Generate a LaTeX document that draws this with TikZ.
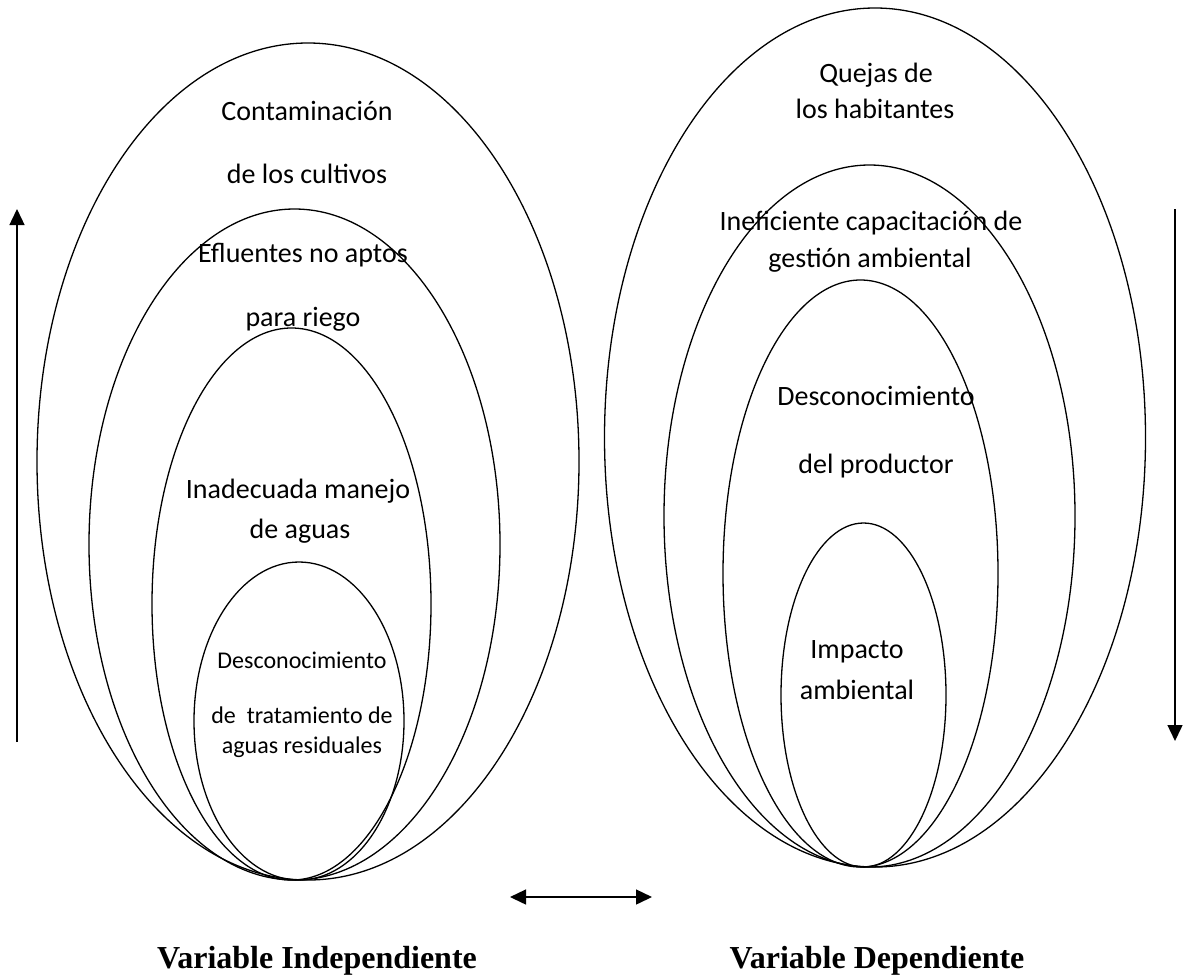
\documentclass[tikz,border=0pt]{standalone}
\usepackage{fontspec}
\setmainfont{Carlito}
\newfontfamily\labelfont{Liberation Serif}
\usetikzlibrary{arrows.meta}
\begin{document}
\begin{tikzpicture}[x=1pt,y=-1pt,
  ring/.style={draw=black,line width=1.3pt},
  txt/.style={anchor=base,inner sep=0pt,font=\fontsize{28}{34}\selectfont},
  smalltxt/.style={anchor=base,inner sep=0pt,font=\fontsize{24}{29}\selectfont},
  caption/.style={anchor=base,inner sep=0pt,font=\labelfont\bfseries\fontsize{32}{38}\selectfont},
  flow/.style={line width=1.4pt,-{Triangle[length=16pt,width=15pt]}},
  both/.style={line width=1.4pt,{Triangle[length=16pt,width=15pt]}-{Triangle[length=16pt,width=15pt]}}]
\useasboundingbox (0,0) rectangle (1190,978);

% independent variable: nested ellipses
\draw[ring] (308,461.5) ellipse [x radius=271, y radius=418.5];
\draw[ring] (294.5,544.5) ellipse [x radius=205.5, y radius=335.5];
\draw[ring] (291.5,604) ellipse [x radius=139.5, y radius=276];
\draw[ring] (299,721) ellipse [x radius=105, y radius=159];

\node[txt] (c1) at (307,120) {Contaminación};
\node[txt] (c2) at (307,183) {de los cultivos};
\node[txt] (e1) at (303,262) {Efluentes no aptos};
\node[txt] (e2) at (303,326) {para riego};
\node[txt] (m1) at (298,498) {Inadecuada manejo};
\node[txt] (m2) at (300,538) {de aguas};
\node[smalltxt] (d1) at (302,668) {Desconocimiento};
\node[smalltxt] (d2) at (302,723) {de\ \ tratamiento de};
\node[smalltxt] (d3) at (302,753) {aguas residuales};

% dependent variable: nested ellipses
\draw[ring] (875,437.5) ellipse [x radius=270.5, y radius=429.5];
\draw[ring] (869.5,516) ellipse [x radius=205.5, y radius=351];
\draw[ring] (860.5,573.5) ellipse [x radius=137.5, y radius=293.5];
\draw[ring] (863.5,695) ellipse [x radius=82.5, y radius=172];

\node[txt] (q1) at (876,82) {Quejas de};
\node[txt] (q2) at (875,118) {los habitantes};
\node[txt] (g1) at (871,230) {Ineficiente capacitación de};
\node[txt] (g2) at (870,267) {gestión ambiental};
\node[txt] (p1) at (876,405) {Desconocimiento};
\node[txt] (p2) at (876,473) {del productor};
\node[txt] (i1) at (857,658) {Impacto};
\node[txt] (i2) at (857,699) {ambiental};

% direction arrows
\coordinate (upA) at (17,742);
\coordinate (upB) at (17,209);
\draw[flow] (upA) -- (upB);
\coordinate (dnA) at (1175,209);
\coordinate (dnB) at (1175,741);
\draw[flow] (dnA) -- (dnB);
\coordinate (hA) at (510,897);
\coordinate (hB) at (652,897);
\draw[both] (hA) -- (hB);

% captions
\node[caption] (vi) at (317,968) {Variable Independiente};
\node[caption] (vd) at (877,968) {Variable Dependiente};
\end{tikzpicture}
\end{document}
